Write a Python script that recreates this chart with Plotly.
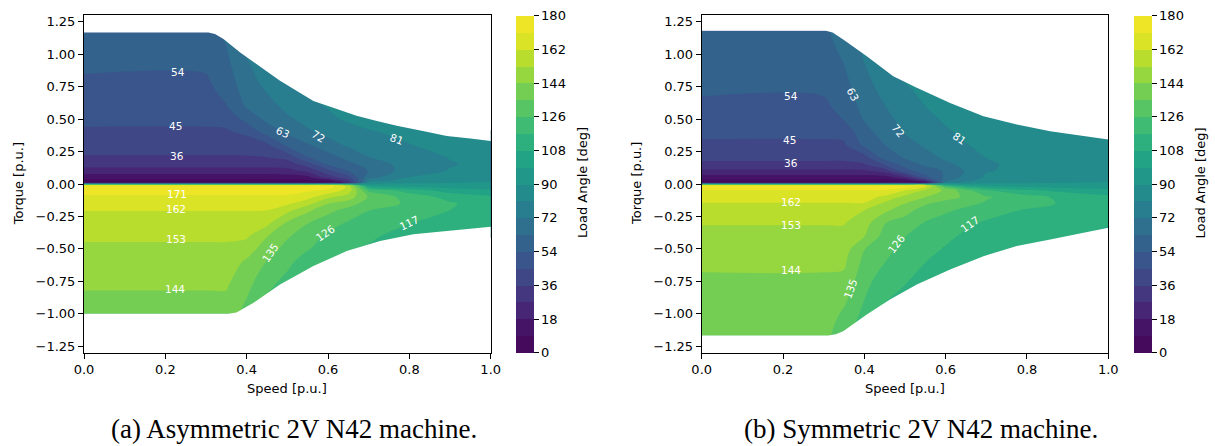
import plotly.graph_objects as go
from plotly.colors import sample_colorscale

N = None

# ---------------- data: panel (a) asymmetric machine ----------------
speed_a = [0.0, 0.3, 0.35, 0.4, 0.45, 0.5, 0.55, 0.6, 0.65, 0.7, 0.8, 0.9, 1.0]
torque_a = [-1.0, -0.9, -0.8, -0.7, -0.6, -0.5, -0.4, -0.3, -0.2, -0.15, -0.1, -0.05, -0.025, -0.012,
            0.012, 0.025, 0.05, 0.1, 0.15, 0.2, 0.3, 0.4, 0.5, 0.6, 0.7, 0.8, 0.9, 1.0, 1.1, 1.17]
angle_a = [
    [139.7, 139.7, 139.7, 132.0, N, N, N, N, N, N, N, N, N],
    [142.0, 142.0, 142.0, 134.5, 124.5, N, N, N, N, N, N, N, N],
    [144.5, 144.5, 144.5, 137.0, 127.5, 122.0, N, N, N, N, N, N, N],
    [146.8, 146.8, 146.8, 139.5, 131.0, 125.0, 117.0, N, N, N, N, N, N],
    [149.1, 149.1, 149.1, 142.5, 134.5, 128.5, 121.0, 117.3, 115.0, N, N, N, N],
    [151.5, 151.5, 151.5, 148.5, 139.0, 132.0, 126.7, 121.0, 117.5, 116.0, N, N, N],
    [154.3, 154.3, 154.3, 154.3, 144.5, 136.0, 130.5, 124.5, 120.5, 118.5, 113.5, 110.5, 106.5],
    [158.2, 158.2, 158.2, 158.2, 155.5, 142.5, 135.3, 129.5, 125.0, 121.5, 117.3, 113.5, 109.0],
    [162.3, 162.3, 162.3, 162.3, 162.3, 156.0, 146.0, 138.0, 132.0, 126.3, 122.5, 117.0, 112.0],
    [165.8, 165.8, 165.8, 165.8, 165.8, 163.5, 156.0, 144.3, 139.0, 131.0, 124.5, 118.0, 112.5],
    [169.5, 169.5, 169.5, 169.5, 169.5, 169.5, 165.0, 155.0, 149.0, 134.0, 122.0, 114.0, 109.5],
    [174.5, 174.5, 174.5, 174.5, 174.5, 174.5, 172.5, 169.0, 158.0, 124.0, 113.0, 104.0, 101.0],
    [177.0, 177.0, 177.0, 177.0, 177.0, 177.0, 175.5, 174.5, 160.0, 108.0, 101.0, 97.0, 95.5],
    [178.5, 178.5, 178.5, 178.5, 178.5, 178.5, 178.0, 177.0, 156.0, 98.0, 95.0, 93.0, 92.5],
    [2.5, 2.5, 2.5, 2.5, 2.5, 2.5, 2.5, 4.0, 24.0, 84.0, 88.5, 89.5, 90.5],
    [6.0, 6.0, 6.0, 6.0, 6.0, 6.0, 7.0, 11.0, 32.0, 77.0, 85.5, 87.5, 89.0],
    [12.0, 12.0, 12.0, 12.0, 12.0, 13.0, 15.0, 31.0, 42.0, 69.0, 81.5, 85.0, 87.0],
    [23.0, 23.0, 23.0, 23.0, 23.0, 24.0, 29.0, 42.0, 54.0, 63.5, 77.0, 81.5, 84.0],
    [30.5, 30.5, 30.5, 30.5, 30.5, 31.0, 40.0, 55.0, 60.5, 66.0, 76.5, 80.5, 82.8],
    [35.0, 35.0, 35.0, 35.0, 35.5, 38.0, 53.0, 59.0, 65.0, 71.5, 78.0, 81.2, 83.0],
    [39.5, 39.5, 39.5, 40.0, 43.0, 56.0, 62.0, 68.0, 73.5, 76.5, 80.8, 82.8, 84.0],
    [44.0, 44.0, 44.0, 47.0, 58.0, 64.5, 70.5, 75.0, 78.5, 80.5, 82.5, 84.0, 85.0],
    [46.4, 46.4, 47.5, 57.0, 65.0, 70.5, 75.0, 79.5, 82.0, 83.0, 84.0, N, N],
    [48.6, 48.6, 53.5, 64.0, 68.5, 74.5, 79.0, 81.5, 83.5, 84.0, N, N, N],
    [50.8, 50.8, 56.5, 66.5, 72.0, 78.0, 82.0, 83.0, N, N, N, N, N],
    [53.0, 53.0, 58.5, 68.5, 75.0, 80.5, N, N, N, N, N, N, N],
    [55.0, 55.0, 60.3, 70.5, 77.0, N, N, N, N, N, N, N, N],
    [56.8, 56.8, 62.0, 72.5, N, N, N, N, N, N, N, N, N],
    [58.7, 58.7, 63.5, N, N, N, N, N, N, N, N, N, N],
    [60.0, 60.0, 64.5, N, N, N, N, N, N, N, N, N, N],
]
env_up_speed_a = [0.0, 0.306, 0.322, 0.343, 0.384, 0.416, 0.449, 0.482, 0.52, 0.564, 0.62, 0.67, 0.72, 0.769, 0.83, 0.892, 0.95, 1.0]
env_up_torque_a = [1.168, 1.168, 1.155, 1.117, 1.014, 0.945, 0.868, 0.795, 0.723, 0.64, 0.579, 0.525, 0.486, 0.448, 0.41, 0.37, 0.35, 0.332]
env_lo_speed_a = [0.0, 0.355, 0.375, 0.417, 0.482, 0.564, 0.646, 0.728, 0.81, 0.892, 1.0]
env_lo_torque_a = [-1.0, -1.0, -0.99, -0.915, -0.774, -0.632, -0.517, -0.44, -0.388, -0.362, -0.33]
labels_a = [("54", 0.232, 0.86, 0), ("45", 0.226, 0.448, 0), ("36", 0.228, 0.212, 0),
            ("63", 0.488, 0.397, 25), ("72", 0.576, 0.37, 30), ("81", 0.769, 0.345, 20),
            ("171", 0.228, -0.08, 0), ("162", 0.226, -0.195, 0), ("153", 0.226, -0.427, 0),
            ("144", 0.224, -0.807, 0), ("135", 0.457, -0.53, -55), ("126", 0.593, -0.375, -35),
            ("117", 0.798, -0.298, -25)]

# ---------------- data: panel (b) symmetric machine ----------------
speed_b = [0.0, 0.3, 0.35, 0.4, 0.45, 0.5, 0.55, 0.6, 0.65, 0.7, 0.8, 0.9, 1.0]
torque_b = [-1.17, -1.1, -1.0, -0.9, -0.8, -0.7, -0.6, -0.5, -0.4, -0.3, -0.2, -0.15, -0.1, -0.05, -0.025, -0.012,
            0.012, 0.025, 0.05, 0.1, 0.15, 0.2, 0.3, 0.4, 0.5, 0.6, 0.7, 0.8, 0.9, 1.0, 1.1, 1.18]
angle_b = [
    [138.0, 138.0, 129.5, N, N, N, N, N, N, N, N, N, N],
    [138.8, 138.8, 131.0, 121.0, N, N, N, N, N, N, N, N, N],
    [140.0, 140.0, 133.5, 123.5, 115.0, N, N, N, N, N, N, N, N],
    [141.2, 141.2, 136.5, 125.8, 117.3, 114.5, N, N, N, N, N, N, N],
    [142.4, 142.4, 140.0, 127.8, 120.0, 116.5, 113.5, N, N, N, N, N, N],
    [143.6, 143.6, 143.0, 130.0, 123.0, 118.7, 115.0, 112.5, 110.5, N, N, N, N],
    [145.7, 145.7, 145.5, 132.5, 126.2, 121.0, 117.1, 114.2, 111.8, 110.0, N, N, N],
    [148.2, 148.2, 148.2, 135.3, 128.5, 123.5, 119.5, 116.3, 113.5, 111.5, 109.0, 107.5, N],
    [150.7, 150.7, 150.7, 144.3, 131.5, 126.2, 122.0, 118.8, 115.6, 113.3, 110.5, 108.8, 106.5],
    [153.5, 153.5, 153.5, 148.0, 135.3, 131.5, 125.3, 122.0, 118.5, 116.0, 112.8, 110.5, 108.5],
    [158.8, 158.8, 158.8, 153.2, 146.5, 138.0, 131.5, 127.5, 124.3, 120.5, 116.3, 113.5, 111.0],
    [161.5, 161.5, 161.5, 161.5, 151.0, 144.2, 136.0, 131.5, 128.0, 125.0, 120.5, 115.5, 112.0],
    [165.6, 165.6, 165.6, 165.6, 160.0, 150.0, 144.2, 138.5, 133.5, 127.0, 120.0, 114.5, 110.0],
    [170.2, 170.2, 170.2, 170.2, 170.2, 162.2, 151.5, 142.0, 129.0, 118.0, 110.0, 105.0, 102.0],
    [175.5, 175.5, 175.5, 175.5, 175.5, 172.5, 162.0, 130.0, 113.0, 105.0, 99.5, 97.0, 95.5],
    [178.0, 178.0, 178.0, 178.0, 178.0, 177.0, 170.0, 115.0, 101.0, 97.0, 94.5, 93.5, 92.5],
    [2.5, 2.5, 2.5, 2.5, 2.5, 3.0, 7.0, 76.0, 83.0, 86.5, 88.5, 89.5, 90.5],
    [6.5, 6.5, 6.5, 6.5, 6.5, 9.0, 28.0, 71.0, 79.5, 84.5, 87.0, 88.0, 89.0],
    [13.5, 13.5, 13.5, 13.5, 13.5, 24.0, 50.0, 65.0, 75.5, 82.5, 85.0, 86.5, 87.5],
    [25.0, 25.0, 25.0, 25.5, 31.0, 50.0, 59.0, 64.0, 73.0, 80.5, 83.0, 84.5, 85.5],
    [34.2, 34.2, 34.2, 35.0, 45.5, 58.0, 64.5, 70.0, 74.5, 80.3, 82.5, 83.8, 84.8],
    [37.5, 37.5, 37.5, 41.0, 57.0, 63.5, 68.0, 73.5, 77.0, 81.0, 82.8, 84.0, 84.8],
    [43.6, 43.6, 43.6, 56.0, 62.8, 68.0, 73.5, 77.5, 80.7, 82.5, 83.7, 84.5, 85.0],
    [46.7, 46.7, 48.0, 60.0, 66.5, 72.8, 76.5, 80.0, 82.5, 83.8, 84.5, 85.0, 85.5],
    [49.4, 49.4, 54.5, 63.7, 69.0, 75.5, 79.0, 82.0, 83.8, 84.5, 85.0, N, N],
    [52.4, 52.4, 57.0, 66.0, 71.8, 77.8, 81.0, 83.5, 84.5, 85.0, N, N, N],
    [54.5, 54.5, 59.0, 68.0, 74.0, 79.5, 82.5, 84.5, N, N, N, N, N],
    [55.8, 55.8, 60.8, 69.8, 76.0, 81.0, 83.5, N, N, N, N, N, N],
    [57.2, 57.2, 62.5, 71.5, 77.5, N, N, N, N, N, N, N, N],
    [58.5, 58.5, 64.5, 73.0, N, N, N, N, N, N, N, N, N],
    [59.9, 59.9, 66.5, N, N, N, N, N, N, N, N, N, N],
    [61.0, 61.0, 68.0, N, N, N, N, N, N, N, N, N, N],
]
env_up_speed_b = [0.0, 0.303, 0.322, 0.348, 0.406, 0.471, 0.529, 0.611, 0.693, 0.775, 0.857, 0.93, 1.0]
env_up_torque_b = [1.183, 1.183, 1.168, 1.114, 0.985, 0.831, 0.741, 0.625, 0.522, 0.458, 0.407, 0.375, 0.343]
env_lo_speed_b = [0.0, 0.311, 0.33, 0.348, 0.406, 0.463, 0.529, 0.611, 0.693, 0.775, 0.857, 0.93, 1.0]
env_lo_torque_b = [-1.167, -1.167, -1.158, -1.134, -1.005, -0.89, -0.774, -0.658, -0.556, -0.478, -0.427, -0.38, -0.337]
labels_b = [("54", 0.219, 0.682, 0), ("45", 0.216, 0.342, 0), ("36", 0.219, 0.162, 0),
            ("63", 0.371, 0.69, 62), ("72", 0.485, 0.412, 50), ("81", 0.633, 0.355, 35),
            ("162", 0.219, -0.136, 0), ("153", 0.219, -0.316, 0), ("144", 0.219, -0.663, 0),
            ("135", 0.366, -0.812, -70), ("126", 0.478, -0.46, -52), ("117", 0.66, -0.311, -35)]

levels_start, levels_end, levels_step = 0, 180, 9
cbar_ticks = [0, 18, 36, 54, 72, 90, 108, 126, 144, 162, 180]
speed_ticks = [0.0, 0.2, 0.4, 0.6, 0.8, 1.0]
torque_ticks = [-1.25, -1.0, -0.75, -0.5, -0.25, 0.0, 0.25, 0.5, 0.75, 1.0, 1.25]

# ---------------- styling ----------------
W, H = 1215, 446
FONT = "DejaVu Sans"
VIRIDIS = ["#440154", "#482475", "#414487", "#355f8d", "#2a788e", "#21918c",
           "#22a884", "#44bf70", "#7ad151", "#bddf26", "#fde725"]
vscale = [[i / 10, c] for i, c in enumerate(VIRIDIS)]
nb = (levels_end - levels_start) // levels_step
band_cols = sample_colorscale(vscale, [(k + 0.5) / nb for k in range(nb)])
# plotly colours band k at scale position (k+1)/(nb+1); map to matplotlib's band-mid viridis colour
cscale = [[0.0, band_cols[0]]] + [[(k + 1) / (nb + 1), band_cols[k]] for k in range(nb)] + [[1.0, band_cols[-1]]]


def fmt_t(v):
    s = f"{v:.2f}"
    return s.replace("-", "\u2212")


def px_x(p):
    return p / W


def px_y(p):
    return 1 - p / H


plot_top, plot_bot = 15.3, 352.7
panels = [
    dict(s=speed_a, t=torque_a, z=angle_a, eus=env_up_speed_a, eut=env_up_torque_a,
         els=env_lo_speed_a, elt=env_lo_torque_a, labels=labels_a,
         x0=84.0, x1=490.7, cb=516.2, cbt=583.0, ytitle=18.3, cap_x=294.0,
         cap="(a) Asymmetric 2V N42 machine."),
    dict(s=speed_b, t=torque_b, z=angle_b, eus=env_up_speed_b, eut=env_up_torque_b,
         els=env_lo_speed_b, elt=env_lo_torque_b, labels=labels_b,
         x0=701.7, x1=1108.3, cb=1134.2, cbt=1200.5, ytitle=636.0, cap_x=921.0,
         cap="(b) Symmetric 2V N42 machine."),
]

fig = go.Figure()
annotations = []
layout_axes = {}
for i, p in enumerate(panels):
    xa = "x" if i == 0 else f"x{i + 1}"
    ya = "y" if i == 0 else f"y{i + 1}"
    fig.add_trace(go.Contour(
        x=p["s"], y=p["t"], z=p["z"], xaxis=xa, yaxis=ya,
        colorscale=cscale, autocontour=False, zmin=0, zmax=180,
        contours=dict(start=levels_start, end=levels_end, size=levels_step,
                      coloring="fill", showlines=False),
        line=dict(width=0, smoothing=1.0), hoverinfo="skip",
        colorbar=dict(x=px_x(p["cb"]), xanchor="left", xpad=0,
                      y=px_y(plot_bot), yanchor="bottom", ypad=0,
                      len=(plot_bot - plot_top) / H, lenmode="fraction",
                      thickness=17.5, thicknessmode="pixels", outlinewidth=0,
                      ticks="outside", ticklen=5, tickwidth=1, tickcolor="black",
                      tickvals=cbar_ticks,
                      tickfont=dict(family=FONT, size=13, color="black")),
    ))
    # white masks outside the operating envelope
    mx = p["eus"] + [1.02, 1.02, -0.02, -0.02]
    my = p["eut"] + [p["eut"][-1], 1.4, 1.4, p["eut"][0]]
    fig.add_trace(go.Scatter(x=mx, y=my, xaxis=xa, yaxis=ya, mode="lines", fill="toself",
                             fillcolor="white", line=dict(width=0, color="white"),
                             hoverinfo="skip", showlegend=False))
    mx = p["els"] + [1.02, 1.02, -0.02, -0.02]
    my = p["elt"] + [p["elt"][-1], -1.4, -1.4, p["elt"][0]]
    fig.add_trace(go.Scatter(x=mx, y=my, xaxis=xa, yaxis=ya, mode="lines", fill="toself",
                             fillcolor="white", line=dict(width=0, color="white"),
                             hoverinfo="skip", showlegend=False))

    axcommon = dict(showline=True, linecolor="black", linewidth=1, mirror=True,
                    showgrid=False, zeroline=False, ticks="outside", ticklen=5,
                    tickwidth=1, tickcolor="black", automargin=False,
                    tickfont=dict(family=FONT, size=13, color="black"))
    layout_axes["xaxis" if i == 0 else f"xaxis{i + 1}"] = dict(
        domain=[px_x(p["x0"]), px_x(p["x1"])], range=[0, 1], anchor=ya,
        tickvals=speed_ticks, ticktext=[f"{v:.1f}" for v in speed_ticks], **axcommon)
    layout_axes["yaxis" if i == 0 else f"yaxis{i + 1}"] = dict(
        domain=[px_y(plot_bot), px_y(plot_top)], range=[-1.3, 1.3], anchor=xa,
        tickvals=torque_ticks, ticktext=[fmt_t(v) for v in torque_ticks], **axcommon)

    for txt, sx, ty, ang in p["labels"]:
        annotations.append(dict(text=txt, x=sx, y=ty, xref=xa, yref=ya, showarrow=False,
                                textangle=ang, xanchor="center", yanchor="middle",
                                font=dict(family=FONT, size=10.5, color="white")))
    cx = (p["x0"] + p["x1"]) / 2
    annotations.append(dict(text="Speed [p.u.]", x=px_x(cx), y=px_y(388.7), xref="paper", yref="paper",
                            showarrow=False, xanchor="center", yanchor="middle",
                            font=dict(family=FONT, size=13, color="black")))
    annotations.append(dict(text="Torque [p.u.]", x=px_x(p["ytitle"]), y=px_y(184), xref="paper",
                            yref="paper", showarrow=False, textangle=-90, xanchor="center",
                            yanchor="middle", font=dict(family=FONT, size=13, color="black")))
    annotations.append(dict(text="Load Angle [deg]", x=px_x(p["cbt"]), y=px_y(183), xref="paper",
                            yref="paper", showarrow=False, textangle=-90, xanchor="center",
                            yanchor="middle", font=dict(family=FONT, size=13, color="black")))
    annotations.append(dict(text=p["cap"], x=px_x(p["cap_x"]), y=px_y(429), xref="paper",
                            yref="paper", showarrow=False, xanchor="center", yanchor="middle",
                            font=dict(family="Liberation Serif", size=27, color="black")))

fig.update_layout(width=W, height=H, margin=dict(l=0, r=0, t=0, b=0, autoexpand=False),
                  paper_bgcolor="white", plot_bgcolor="white", showlegend=False,
                  font=dict(family=FONT, color="black"), annotations=annotations, **layout_axes)
fig.write_html("out.html")
